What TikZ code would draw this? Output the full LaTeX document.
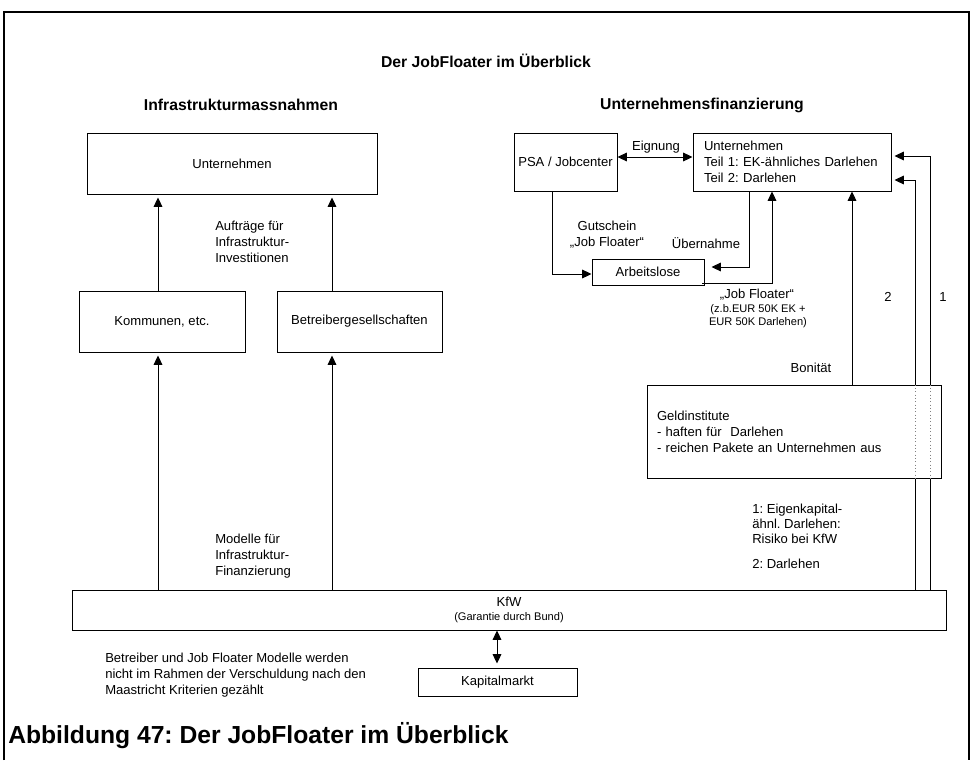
\documentclass[tikz,border=0pt]{standalone}
\usepackage{fontspec}
\setmainfont{Liberation Sans}
\usetikzlibrary{arrows.meta}
\frenchspacing
\newcommand\fsn{\fontsize{9.8pt}{12pt}\selectfont}
\newcommand\fss{\fontsize{8.3pt}{9.75pt}\selectfont}
\newcommand\fsh{\fontsize{11.8pt}{14pt}\selectfont\bfseries}
\newcommand\fsc{\fontsize{18.5pt}{22pt}\selectfont\bfseries}
\tikzset{
  box/.style={draw, line width=0.75pt, inner sep=0pt, font=\fsn, align=center},
  lbl/.style={inner sep=0pt, font=\fsn},
  hdr/.style={inner sep=0pt, font=\fsh},
  capt/.style={inner sep=0pt, font=\fsc},
  arr/.style={-{Triangle[length=7pt,width=6.5pt]}, line width=0.75pt},
  arrtwo/.style={{Triangle[length=7pt,width=6.5pt]}-{Triangle[length=7pt,width=6.5pt]}, line width=0.75pt},
  thru/.style={dotted, gray, line width=0.5pt}
}
\begin{document}
\begin{tikzpicture}[x=0.75pt,y=-0.75pt]
\useasboundingbox (0,0) rectangle (973,760);
\draw[line width=1.5pt] (4,760) -- (4,12) -- (969,12) -- (969,760);

% headings
\node[hdr] (title) at (486,61) {Der JobFloater im Überblick};
\node[hdr] (hl) at (241,105) {Infrastrukturmassnahmen};
\node[hdr] (hr) at (702,105) {Unternehmensfinanzierung};

% helper coordinates
\coordinate (xa) at (158,0);
\coordinate (xb) at (332,0);
\coordinate (xpsa) at (552,0);
\coordinate (xub) at (749,0);
\coordinate (xjf) at (772,0);
\coordinate (xbon) at (852,0);
\coordinate (xtwo) at (915,0);
\coordinate (xone) at (930,0);
\coordinate (xkap) at (497,0);
\coordinate (yeig) at (0,157);
\coordinate (yarb) at (0,274);
\coordinate (yub) at (0,267);
\coordinate (yone) at (0,156);
\coordinate (ytwo) at (0,180);
\coordinate (jfs) at (702,283);

% boxes
\node[box, minimum width=217.5pt, minimum height=45.75pt] (uL) at (232,163.5) {Unternehmen};
\node[box, minimum width=124.5pt, minimum height=45.75pt] (kom) at (162,321.5) {Kommunen, etc.};
\node[box, minimum width=123.75pt, minimum height=45.75pt] (bet) at (359.5,321.5) {Betreibergesellschaften};
\node[box, minimum width=77.25pt, minimum height=43.5pt] (psa) at (565.5,162) {PSA / Jobcenter};
\node[box, text width=132pt, align=left, inner xsep=8.25pt, minimum height=43.5pt] (uR) at (792,162) {Unternehmen\\Teil 1: EK-ähnliches Darlehen\\Teil 2: Darlehen};
\node[box, minimum width=84pt, minimum height=19.5pt] (arb) at (648,272) {Arbeitslose};
\node[box, minimum width=655.5pt, minimum height=30pt] (kfw) at (509,610) {KfW\\[-1.5pt]{\fss (Garantie durch Bund)}};
\node[box, minimum width=119.25pt, minimum height=21pt] (kap) at (497.5,682) {Kapitalmarkt};

% left arrows
\draw[arr, shorten >=2.25pt] (kom.north -| xa) -- (uL.south -| xa);
\draw[arr, shorten >=2.25pt] (bet.north -| xb) -- (uL.south -| xb);
\draw[arr, shorten >=2.25pt] (kfw.north -| xa) -- (kom.south -| xa);
\draw[arr, shorten >=2.25pt] (kfw.north -| xb) -- (bet.south -| xb);
\draw[arrtwo, shorten >=3pt] (kfw.south -| xkap) -- (kap.north -| xkap);

% right arrows
\draw[arrtwo] (psa.east |- yeig) -- (uR.west |- yeig);
\draw[arr] (psa.south -| xpsa) -- (xpsa |- yarb) -- (arb.west |- yarb);
\draw[arr, shorten >=5.25pt] (uR.south -| xub) -- (xub |- yub) -- (arb.east |- yub);
\draw[arr] (jfs) -- (xjf |- jfs) -- (uR.south -| xjf);
\draw[arr, shorten >=2.25pt] (kfw.north -| xtwo) -- (xtwo |- ytwo) -- (uR.east |- ytwo);
\draw[arr, shorten >=2.25pt] (kfw.north -| xone) -- (xone |- yone) -- (uR.east |- yone);

% Geldinstitute box over the lines
\node[box, fill=white, text width=205.5pt, align=left, inner xsep=7.5pt, minimum height=69.75pt] (geld) at (794,431.5) {Geldinstitute\\- haften für~~Darlehen\\- reichen Pakete an Unternehmen aus};
\draw[thru] (geld.north -| xtwo) -- (geld.south -| xtwo);
\draw[thru] (geld.north -| xone) -- (geld.south -| xone);
\draw[arr] (geld.north -| xbon) -- (uR.south -| xbon);

% labels
\node[lbl, anchor=west, align=left] (auf) at (215,242) {Aufträge für\\Infrastruktur-\\Investitionen};
\node[lbl, anchor=west, align=left] (mod) at (215,556) {Modelle für\\Infrastruktur-\\Finanzierung};
\node[lbl] (eig) at (656,147) {Eignung};
\node[lbl, align=center] (gut) at (607,234.5) {Gutschein\\„Job Floater“};
\node[lbl] (ueb) at (706,243) {Übernahme};
\node[lbl] (jf) at (757,295) {„Job Floater“};
\node[lbl, font=\fss, align=center] (jfs2) at (758,316.5) {(z.b.EUR 50K EK +\\EUR 50K Darlehen)};
\node[lbl] (bon) at (811,368) {Bonität};
\node[lbl] (ntwo) at (888,297) {2};
\node[lbl] (none) at (943,297) {1};
\node[lbl, anchor=west, align=left, font=\fontsize{9.8pt}{11.25pt}\selectfont] (ek) at (752,524) {1: Eigenkapital-\\ähnl. Darlehen:\\Risiko bei KfW};
\node[lbl, anchor=west] (dar) at (752,564) {2: Darlehen};
\node[lbl, anchor=west, align=left] (note) at (105,675) {Betreiber und Job Floater Modelle werden\\nicht im Rahmen der Verschuldung nach den\\Maastricht Kriterien gezählt};
\node[capt, anchor=west] (cap) at (8,736) {Abbildung 47: Der JobFloater im Überblick};
\end{tikzpicture}
\end{document}
